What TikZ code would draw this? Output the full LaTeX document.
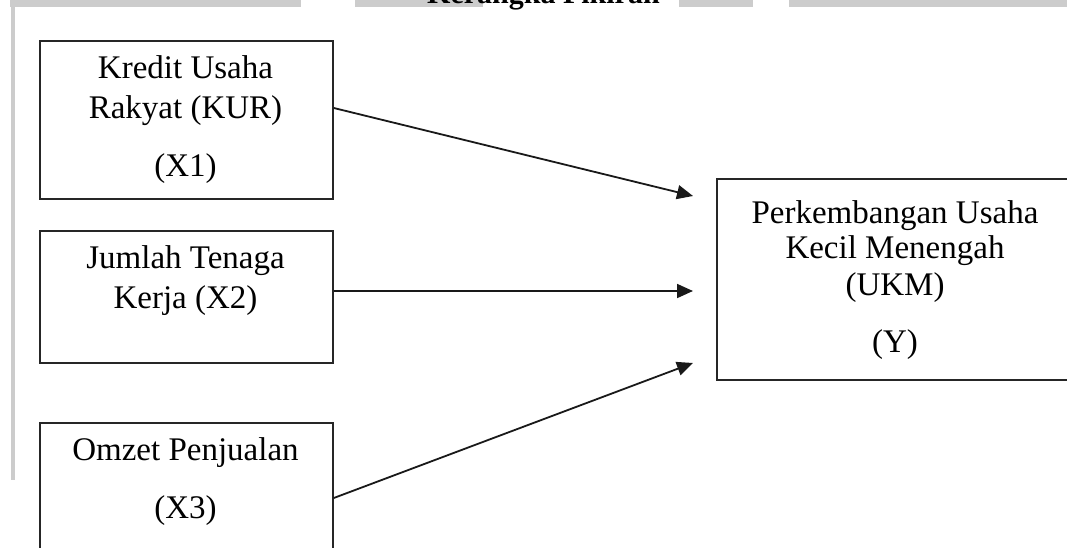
\documentclass[tikz,border=0pt]{standalone}
\usepackage{fontspec}
\setmainfont{Liberation Serif}
\usetikzlibrary{arrows.meta}
\begin{document}
\begin{tikzpicture}[x=1pt,y=-1pt,
  boxnode/.style={draw=black!85, line width=1.8pt, rectangle, inner sep=0pt, anchor=north west, minimum width=#1},
  txt/.style={anchor=base, inner sep=0pt, font=\fontsize{33}{39}\selectfont},
  conn/.style={draw=black!90, line width=1.8pt, -{Triangle[length=16pt,width=14pt]}},
  bar/.style={fill=black!20, draw=none}]
\useasboundingbox (0,0) rectangle (1067,548);
\clip (0,0) rectangle (1067,548);
% page decoration
\fill[bar] (10,0) rectangle (301,7);
\fill[bar] (355,0) rectangle (483,7);
\fill[bar] (679,0) rectangle (753,7);
\fill[bar] (789,0) rectangle (1067,7);
\fill[bar] (11,0) rectangle (15,480);
\node[anchor=base west, inner sep=0pt, font=\fontsize{30}{36}\selectfont\bfseries] (title) at (427,4) {Kerangka Pikiran};
% boxes
\node[boxnode=293pt, minimum height=158pt] (x1) at (39,40) {};
\node[boxnode=293pt, minimum height=132pt] (x2) at (39,230) {};
\node[boxnode=293pt, minimum height=170pt] (x3) at (39,422) {};
\node[boxnode=360pt, minimum height=201pt] (y) at (716,178) {};
% texts
\node[txt] (x1a) at (185.5,79) {Kredit Usaha};
\node[txt] (x1b) at (185.5,119) {Rakyat (KUR)};
\node[txt] (x1c) at (185.5,177) {(X1)};
\node[txt] (x2a) at (185.5,268) {Jumlah Tenaga};
\node[txt] (x2b) at (185.5,308) {Kerja (X2)};
\node[txt] (x3a) at (185.5,460) {Omzet Penjualan};
\node[txt] (x3b) at (185.5,518) {(X3)};
\node[txt] (ya) at (895,223) {Perkembangan Usaha};
\node[txt] (yb) at (895,258) {Kecil Menengah};
\node[txt] (yc) at (895,295) {(UKM)};
\node[txt] (yd) at (895,352) {(Y)};
% arrow ends
\coordinate (t1) at (693,196);
\coordinate (t2) at (693,291);
\coordinate (t3) at (693,363);
\draw[conn] (x1.east |- 0,108) -- (t1);
\draw[conn] (x2.east |- 0,291) -- (t2);
\draw[conn] (x3.east |- 0,498) -- (t3);
\end{tikzpicture}
\end{document}
